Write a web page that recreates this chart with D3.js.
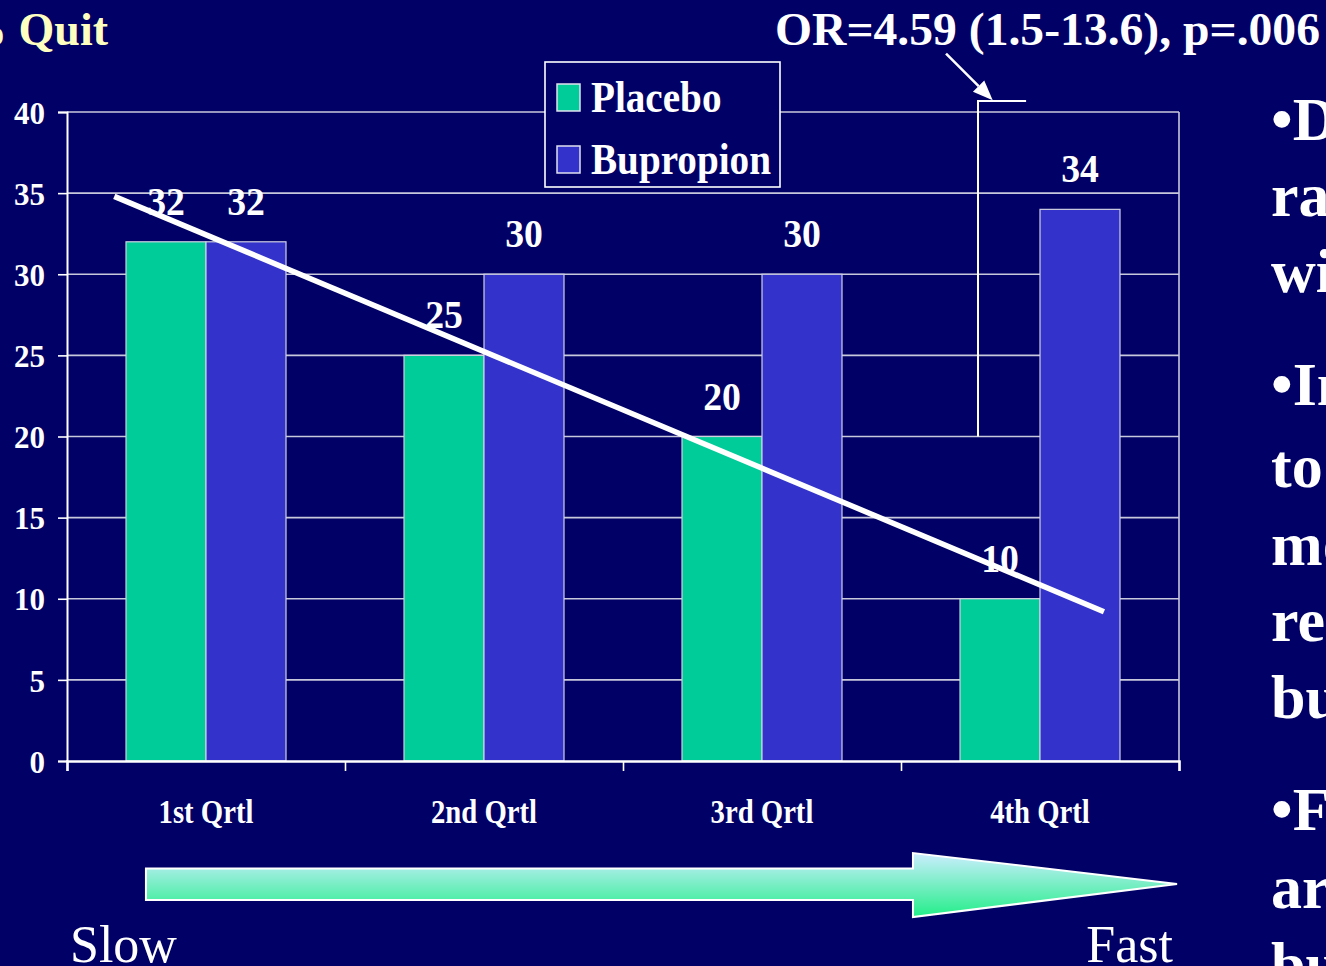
<!DOCTYPE html>
<html>
<head>
<meta charset="utf-8">
<script src="https://cdn.jsdelivr.net/npm/d3@7"></script>
<style>
  html, body { margin: 0; padding: 0; background: #000066; overflow: hidden; }
  svg { display: block; }
  text { font-family: "Liberation Serif", "Times New Roman", serif; }
</style>
</head>
<body>
<svg id="chart" width="1326" height="966"></svg>
<script>
// Quit rates by quartile of nicotine metabolism, placebo vs bupropion
const categories = ["1st Qrtl", "2nd Qrtl", "3rd Qrtl", "4th Qrtl"];
const seriesNames = ["Placebo", "Bupropion"];
const placebo = [32, 25, 20, 10];
const bupropion = [32, 30, 30, 34];
const yTicks = [0, 5, 10, 15, 20, 25, 30, 35, 40];
const seriesColors = ["#00cc99", "#3333cc"];
// trend line ends, in category units (0..4) and percent
const trendPos = [0.17, 3.73];
const trendVal = [34.8, 9.2];
const sideLines = ["•D", "ra", "wi", "•In", "to", "mo", "re", "bu", "•F", "ar", "bu"];

const svg = d3.select("#chart");
const W = 1326, H = 966;
svg.append("rect").attr("width", W).attr("height", H).attr("fill", "#000066");

const plotL = 67, plotR = 1179, plotT = 112, plotB = 761;

const x0 = d3.scaleBand().domain(categories).range([plotL, plotR]).padding(0);
const x1 = d3.scaleBand().domain(seriesNames).range([0, x0.bandwidth()])
  .paddingInner(0).paddingOuter(0.7375);
const xPos = d3.scaleLinear().domain([0, 4]).range([plotL, plotR]);
const y = d3.scaleLinear().domain([0, 40]).range([plotB, plotT]);

// gridlines
svg.append("g").selectAll("line").data(yTicks.filter(d => d > 0)).join("line")
  .attr("x1", plotL).attr("x2", plotR)
  .attr("y1", d => y(d)).attr("y2", d => y(d))
  .attr("stroke", "#c8c8dc").attr("stroke-width", 1.6);
// right frame edge
svg.append("line").attr("x1", plotR).attr("x2", plotR).attr("y1", plotT).attr("y2", plotB)
  .attr("stroke", "#c8c8dc").attr("stroke-width", 1.6);

// bars
const rows = categories.map((c, i) => ({ cat: c, values: [placebo[i], bupropion[i]] }));
const groups = svg.append("g").selectAll("g").data(rows).join("g")
  .attr("transform", d => `translate(${x0(d.cat)},0)`);
groups.selectAll("rect").data(d => d.values.map((v, j) => ({ v, s: seriesNames[j], j })))
  .join("rect")
  .attr("x", d => x1(d.s)).attr("width", x1.bandwidth())
  .attr("y", d => y(d.v)).attr("height", d => y(0) - y(d.v))
  .attr("fill", d => seriesColors[d.j])
  .attr("stroke", "#d0d0e0").attr("stroke-width", 1.2);

// y axis
const yAxis = svg.append("g").attr("transform", `translate(${plotL},0)`)
  .call(d3.axisLeft(y).tickValues(yTicks).tickSize(9).tickPadding(13));
yAxis.select(".domain").attr("stroke", "#ffffff").attr("stroke-width", 2);
yAxis.selectAll(".tick line").attr("stroke", "#ffffff").attr("stroke-width", 1.6);
yAxis.selectAll(".tick text").attr("fill", "#ffffff")
  .style("font-family", "'Liberation Serif', serif")
  .style("font-weight", "bold").style("font-size", "31px")
  .attr("dy", "0.36em");

// x axis
const xAxis = svg.append("g").attr("transform", `translate(0,${plotB})`)
  .call(d3.axisBottom(xPos).tickValues([0, 1, 2, 3, 4]).tickSize(10).tickFormat(""));
xAxis.select(".domain").attr("stroke", "#ffffff").attr("stroke-width", 2.5);
xAxis.selectAll(".tick line").attr("stroke", "#ffffff").attr("stroke-width", 1.6);

// category labels
svg.append("g").selectAll("text").data(categories).join("text")
  .attr("transform", d => `translate(${x0(d) + x0.bandwidth() / 2},823) scale(0.87,1)`)
  .attr("text-anchor", "middle").attr("fill", "#ffffff")
  .style("font-weight", "bold").style("font-size", "33px")
  .text(d => d);

// trend line
svg.append("line")
  .attr("x1", xPos(trendPos[0])).attr("y1", y(trendVal[0]))
  .attr("x2", xPos(trendPos[1])).attr("y2", y(trendVal[1]))
  .attr("stroke", "#ffffff").attr("stroke-width", 5.5);

// value labels
groups.selectAll("text.val").data(d => d.values.map((v, j) => ({ v, s: seriesNames[j] })))
  .join("text").attr("class", "val")
  .attr("transform", d => `translate(${x1(d.s) + x1.bandwidth() / 2},${y(d.v) - 27}) scale(0.92,1)`)
  .attr("text-anchor", "middle").attr("fill", "#ffffff")
  .style("font-weight", "bold").style("font-size", "41px")
  .text(d => d.v);

// legend
const lg = svg.append("g");
lg.append("rect").attr("x", 545).attr("y", 62).attr("width", 235).attr("height", 125)
  .attr("fill", "#000066").attr("stroke", "#ffffff").attr("stroke-width", 1.6);
seriesNames.forEach((name, i) => {
  const yy = 84 + i * 62;
  lg.append("rect").attr("x", 557).attr("y", yy).attr("width", 23).attr("height", 27)
    .attr("fill", seriesColors[i]).attr("stroke", "#e0e0f0").attr("stroke-width", 1.5);
  lg.append("text").attr("transform", `translate(591,${yy + 28}) scale(0.89,1)`)
    .attr("fill", "#ffffff").style("font-weight", "bold").style("font-size", "44px")
    .text(name);
});

// bracket and arrow annotation for 4th quartile
const bx = xPos(3.277), bTop = y(40.68);
svg.append("path")
  .attr("d", `M${bx},${y(20)}V${bTop}H${xPos(3.45)}`)
  .attr("fill", "none").attr("stroke", "#ffffff").attr("stroke-width", 2);
const ax1 = xPos(3.162), ay1 = y(43.6), ax2 = xPos(3.33), ay2 = y(40.72);
const ang = Math.atan2(ay2 - ay1, ax2 - ax1);
const hl = 20, hw = 8;
const bxh = ax2 - hl * Math.cos(ang), byh = ay2 - hl * Math.sin(ang);
svg.append("line").attr("x1", ax1).attr("y1", ay1).attr("x2", bxh).attr("y2", byh)
  .attr("stroke", "#ffffff").attr("stroke-width", 2.5);
svg.append("path")
  .attr("d", `M${ax2},${ay2}L${bxh + hw * Math.sin(ang)},${byh - hw * Math.cos(ang)}L${bxh - hw * Math.sin(ang)},${byh + hw * Math.cos(ang)}Z`)
  .attr("fill", "#ffffff");

// headings
svg.append("text").attr("x", 108).attr("y", 45).attr("text-anchor", "end")
  .attr("fill", "#ffffc0").style("font-weight", "bold").style("font-size", "46px")
  .text("% Quit");
svg.append("text").attr("x", 775).attr("y", 45)
  .attr("fill", "#ffffff").style("font-weight", "bold").style("font-size", "46px")
  .attr("textLength", 545).attr("lengthAdjust", "spacingAndGlyphs")
  .text("OR=4.59 (1.5-13.6), p=.006");

// slow-to-fast gradient arrow
const defs = svg.append("defs");
const grad = defs.append("linearGradient").attr("id", "speedGrad")
  .attr("x1", 0).attr("y1", 0).attr("x2", 0).attr("y2", 1);
grad.append("stop").attr("offset", "0%").attr("stop-color", "#cceeff");
grad.append("stop").attr("offset", "100%").attr("stop-color", "#22ee88");
const aL = xPos(0.284), aM = xPos(3.043), aR = xPos(3.993);
const aMid = 884;
svg.append("path")
  .attr("d", `M${aL},${aMid - 15.5}H${aM}V${aMid - 31}L${aR},${aMid}L${aM},${aMid + 33}V${aMid + 16}H${aL}Z`)
  .attr("fill", "url(#speedGrad)").attr("stroke", "#ffffff").attr("stroke-width", 2);

svg.append("text").attr("x", 70).attr("y", 962).attr("fill", "#ffffff")
  .style("font-size", "52px").text("Slow");
svg.append("text").attr("x", 1173).attr("y", 962).attr("text-anchor", "end").attr("fill", "#ffffff")
  .style("font-size", "52px").text("Fast");

// side bullet text
const sideBase = [140, 216, 292, 405, 487, 565, 641, 718, 830, 908, 985];
svg.append("g").selectAll("text").data(sideLines).join("text")
  .attr("x", 1271).attr("y", (d, i) => sideBase[i])
  .attr("fill", "#ffffff").style("font-weight", "bold").style("font-size", "62px")
  .text(d => d);
</script>
</body>
</html>
